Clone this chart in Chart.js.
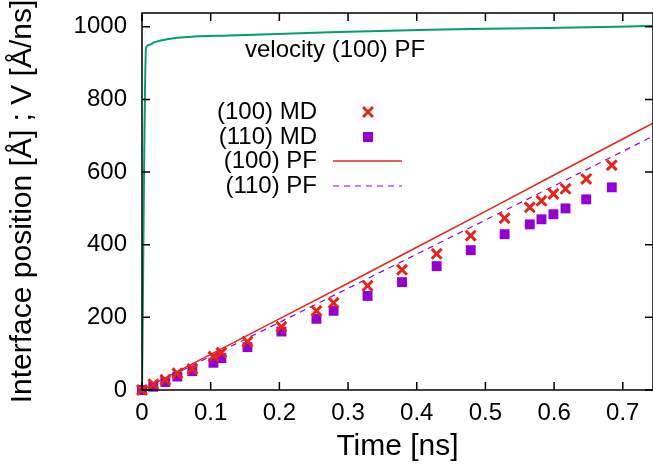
<!DOCTYPE html>
<html>
<head>
<meta charset="utf-8">
<script src="https://cdn.jsdelivr.net/npm/chart.js@4"></script>
<style>
  body { margin: 0; background: #fff; }
  canvas { display: block; }
</style>
</head>
<body>
<canvas id="grafico" width="653" height="472"></canvas>
<script>
// MD data (same times for both orientations)
const tempoMD = [0, 0.0165, 0.034, 0.0515, 0.0733, 0.104, 0.1156, 0.1535, 0.203, 0.254, 0.279, 0.3284, 0.3786, 0.429, 0.4786, 0.528, 0.5646, 0.5816, 0.599, 0.6166, 0.6468, 0.684];
const md100 = [0, 16, 28, 46, 58, 92, 103, 133, 174, 218, 240, 287, 331, 375, 425, 473, 503, 521, 540, 554, 581, 619];
const md110 = [0, 9, 22, 37, 52, 75, 88, 118, 161, 196, 218, 259, 297, 341, 385, 429, 456, 470, 484, 500, 525, 558];

// phase-field curves
const tempoPF = [0, 0.05, 0.1, 0.2, 0.3, 0.4, 0.5, 0.6, 0.7, 0.745];
const pf100 = [0, 49, 98, 196, 294, 393, 492, 592, 691, 736];
const pf110 = [0, 46, 93, 186, 280, 374, 468, 562, 657, 700];

// velocity (100) PF
const tempoVel = [0, 0.0058, 0.0102, 0.0175, 0.0369, 0.0758, 0.127, 0.273, 0.418, 0.564, 0.71, 0.745];
const vel100 = [0, 941, 950, 957, 966, 973, 976, 985, 992, 996, 1001, 1003];

const xTicks = [0, 0.1, 0.2, 0.3, 0.4, 0.5, 0.6, 0.7];
const yTicks = [0, 200, 400, 600, 800, 1000];

const legendLabels = ["(100) MD", "(110) MD", "(100) PF", "(110) PF"];

const FONTE = "'Liberation Sans', Arial, Helvetica, sans-serif";
const VERMELHO = "#e4261a";
const ROXO = "#9400d3";
const VERDE = "#009e73";

const pares = (xs, ys) => xs.map((x, i) => ({ x: x, y: ys[i] }));

// -------------------- box, mirror ticks, legend, label --------------------
const moldura = {
    id: "moldura",
    afterDatasetsDraw(chart) {
        const { ctx, chartArea: a, scales: { x, y } } = chart;
        ctx.save();
        ctx.strokeStyle = "#000";
        ctx.lineWidth = 1.5;
        ctx.strokeRect(a.left, a.top, a.right - a.left, a.bottom - a.top);

        const tl = 8;
        ctx.beginPath();
        xTicks.forEach(v => {
            const px = x.getPixelForValue(v);
            ctx.moveTo(px, a.bottom); ctx.lineTo(px, a.bottom - tl);
            ctx.moveTo(px, a.top); ctx.lineTo(px, a.top + tl);
        });
        yTicks.forEach(v => {
            const py = y.getPixelForValue(v);
            ctx.moveTo(a.left, py); ctx.lineTo(a.left + tl, py);
            ctx.moveTo(a.right, py); ctx.lineTo(a.right - tl, py);
        });
        ctx.stroke();

        // legend
        ctx.font = "24px " + FONTE;
        ctx.fillStyle = "#000";
        ctx.textAlign = "right";
        ctx.textBaseline = "middle";
        const linhas = [112, 137, 161, 186];
        legendLabels.forEach((txt, i) => ctx.fillText(txt, 317, linhas[i]));

        ctx.strokeStyle = VERMELHO;
        ctx.lineWidth = 3;
        Chart.helpers.drawPoint(ctx, { pointStyle: "crossRot", radius: 7, rotation: 0, borderWidth: 3 }, 368, linhas[0]);

        ctx.fillStyle = ROXO;
        ctx.fillRect(368 - 5, linhas[1] - 5, 10, 10);

        ctx.lineWidth = 1.5;
        ctx.beginPath();
        ctx.moveTo(333, linhas[2]); ctx.lineTo(402, linhas[2]);
        ctx.stroke();

        ctx.strokeStyle = ROXO;
        ctx.lineWidth = 1.2;
        ctx.setLineDash([6, 5]);
        ctx.beginPath();
        ctx.moveTo(333, linhas[3]); ctx.lineTo(402, linhas[3]);
        ctx.stroke();
        ctx.setLineDash([]);

        // curve label
        ctx.fillStyle = "#000";
        ctx.textAlign = "left";
        ctx.fillText("velocity (100) PF", 245, 50);
        ctx.restore();
    }
};

new Chart(document.getElementById("grafico"), {
    type: "scatter",
    data: {
        datasets: [
            {
                label: legendLabels[0],
                data: pares(tempoMD, md100),
                pointStyle: "crossRot",
                pointRadius: 7,
                borderWidth: 3,
                borderColor: VERMELHO,
                backgroundColor: VERMELHO,
                clip: false
            },
            {
                label: legendLabels[1],
                data: pares(tempoMD, md110),
                pointStyle: "rect",
                pointRadius: 7,
                borderWidth: 0,
                borderColor: ROXO,
                backgroundColor: ROXO,
                clip: false
            },
            {
                label: legendLabels[2],
                data: pares(tempoPF, pf100),
                showLine: true,
                pointRadius: 0,
                borderColor: VERMELHO,
                borderWidth: 1.5
            },
            {
                label: legendLabels[3],
                data: pares(tempoPF, pf110),
                showLine: true,
                pointRadius: 0,
                borderColor: ROXO,
                borderWidth: 1.2,
                borderDash: [6, 5]
            },
            {
                label: "velocity (100) PF",
                data: pares(tempoVel, vel100),
                showLine: true,
                pointRadius: 0,
                borderColor: VERDE,
                borderWidth: 2,
                cubicInterpolationMode: "monotone"
            }
        ]
    },
    options: {
        responsive: false,
        animation: false,
        devicePixelRatio: 1,
        layout: { autoPadding: false, padding: { top: 13, right: 0, left: 0, bottom: 0 } },
        plugins: { legend: { display: false }, tooltip: { enabled: false } },
        scales: {
            x: {
                type: "linear",
                min: 0,
                max: 0.744,
                afterBuildTicks: s => { s.ticks = xTicks.map(v => ({ value: v })); },
                afterFit: s => { s.height = 82; s.paddingLeft = 0; s.paddingRight = 0; },
                grid: { display: false, drawTicks: false },
                border: { display: false },
                ticks: {
                    font: { family: FONTE, size: 24 },
                    color: "#000",
                    padding: 9,
                    maxRotation: 0,
                    autoSkip: false,
                    callback: v => v === 0 ? "0" : v.toFixed(1)
                },
                title: {
                    display: true,
                    text: "Time [ns]",
                    color: "#000",
                    font: { family: FONTE, size: 30 },
                    padding: { top: 0, bottom: 7 }
                }
            },
            y: {
                type: "linear",
                min: 0,
                max: 1038,
                afterBuildTicks: s => { s.ticks = yTicks.map(v => ({ value: v })); },
                afterFit: s => { s.width = 142; s.paddingTop = 0; s.paddingBottom = 0; },
                grid: { display: false, drawTicks: false },
                border: { display: false },
                ticks: {
                    font: { family: FONTE, size: 24 },
                    color: "#000",
                    padding: 15,
                    autoSkip: false,
                    callback: v => String(v)
                },
                title: {
                    display: true,
                    text: "Interface position [Å] ; V [Å/ns]",
                    color: "#000",
                    font: { family: FONTE, size: 30 },
                    padding: { top: 5, bottom: 0 }
                }
            }
        }
    },
    plugins: [moldura]
});
</script>
</body>
</html>
